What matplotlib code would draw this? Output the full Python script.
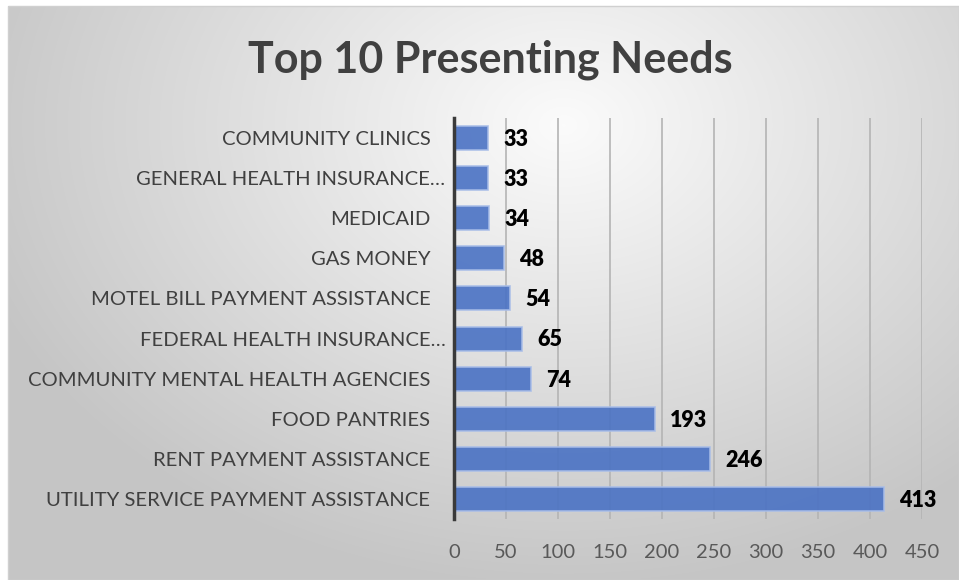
import numpy as np
import matplotlib
matplotlib.use("Agg")
import matplotlib.pyplot as plt
import matplotlib.transforms as mtransforms

categories = ["UTILITY SERVICE PAYMENT ASSISTANCE", "RENT PAYMENT ASSISTANCE", "FOOD PANTRIES",
              "COMMUNITY MENTAL HEALTH AGENCIES", "FEDERAL HEALTH INSURANCE…",
              "MOTEL BILL PAYMENT ASSISTANCE", "GAS MONEY", "MEDICAID",
              "GENERAL HEALTH INSURANCE…", "COMMUNITY CLINICS"]
values = [413, 246, 193, 74, 65, 54, 48, 34, 33, 33]
xticks = [0, 50, 100, 150, 200, 250, 300, 350, 400, 450]
title = "Top 10 Presenting Needs"

plt.rcParams['font.family'] = ['Lato', 'DejaVu Sans']

W, H = 959, 580
fig = plt.figure(figsize=(W / 100, H / 100), dpi=100)

# background: white frame + radial gradient chart area
bg = fig.add_axes([0, 0, 1, 1])
bg.set_xlim(0, W)
bg.set_ylim(H, 0)
bg.axis('off')
yy, xx = np.mgrid[0:H, 0:W]
cx, cy = 560, 120
r = np.sqrt(((xx - cx) / 1.0) ** 2 + ((yy - cy) / 0.75) ** 2)
t = np.clip(r / 620, 0, 1)
v = 0.985 - 0.21 * t
img = np.dstack([v, v, v])
bg.imshow(img, extent=[8, W, H, 6], aspect='auto', zorder=0)
bg.add_patch(plt.Rectangle((8, 6), W - 8, H - 6, fill=False, edgecolor='#d0d0d0', lw=1, zorder=1))

# plot axes
x0, x1 = 454, 922
ytop, ybot = 118, 519
ax = fig.add_axes([x0 / W, 1 - ybot / H, (x1 - x0) / W, (ybot - ytop) / H])
ax.patch.set_alpha(0)
ypos = np.arange(len(categories))
ax.barh(ypos, values, height=0.6, color='#4a72c4', alpha=0.9, edgecolor='#a8bde8', linewidth=1.2, zorder=3)
ax.set_xlim(0, 450)
ax.set_ylim(-0.5, len(categories) - 0.5)
ax.set_xticks(xticks)
ax.set_xticklabels([str(t) for t in xticks], fontsize=14.5, color='#595959')
ax.set_yticks(ypos)
ax.set_yticklabels(categories, fontsize=14.6, color='#404040')
ax.tick_params(axis='y', length=0, pad=17)
ax.tick_params(axis='x', length=0, pad=18)
# truncated labels run up to the axis line as in the reference
shift = mtransforms.ScaledTranslation(15 / 100, 0, fig.dpi_scale_trans)
for lab in ax.get_yticklabels():
    if lab.get_text().endswith("…"):
        lab.set_transform(lab.get_transform() + shift)
ax.grid(axis='x', color='#b4b4b4', lw=1.2, zorder=1)
for s in ['top', 'right', 'bottom']:
    ax.spines[s].set_visible(False)
ax.spines['left'].set_color('#3a3a3a')
ax.spines['left'].set_linewidth(2.5)
ax.spines['left'].set_zorder(5)
for yi, v_ in zip(ypos, values):
    ax.annotate(str(v_), (v_, yi), xytext=(11, -1), textcoords='offset points',
                va='center', ha='left', fontsize=15.5, fontweight='heavy', color='black', zorder=6)

fig.text(490 / W, 1 - 60 / H, title, ha='center', va='center', fontsize=31,
         fontweight='bold', color='#404040')

fig.savefig('out.png', dpi=100)
